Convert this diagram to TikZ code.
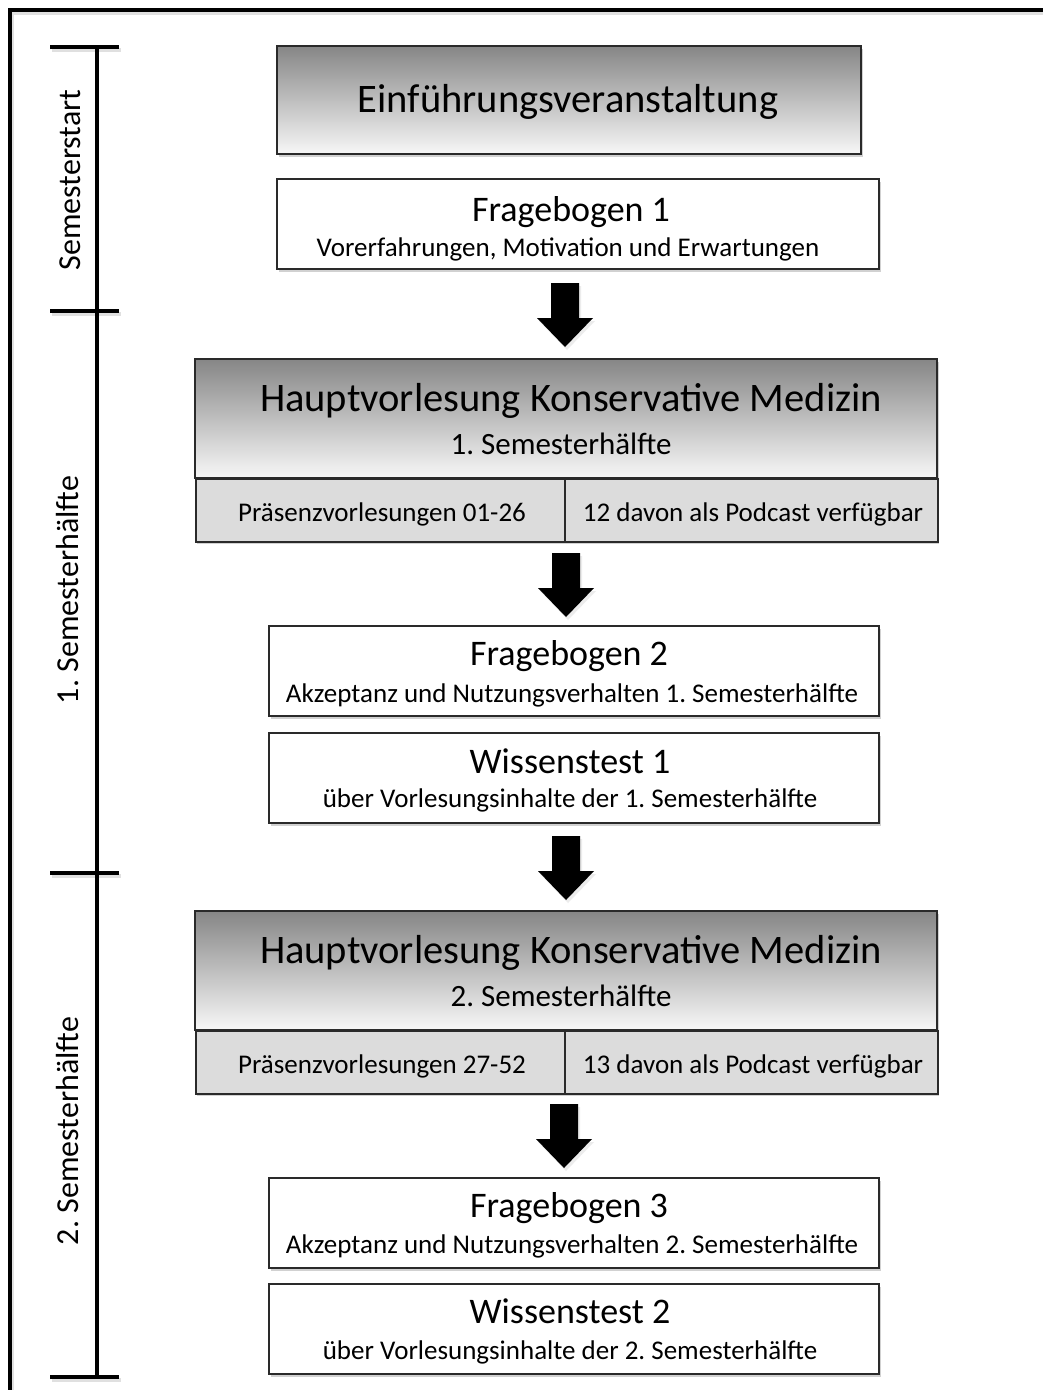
\documentclass[tikz,border=0pt]{standalone}
\usepackage{fontspec}
\setmainfont{Carlito}
\frenchspacing
\usetikzlibrary{shadows,calc}
\definecolor{boxline}{HTML}{2A2A2A}
\definecolor{cellfill}{HTML}{DCDCDC}
\definecolor{gradtop}{HTML}{868686}
\definecolor{gradbot}{HTML}{F7F7F7}
\tikzset{
  shad/.style={drop shadow={shadow xshift=2pt, shadow yshift=-3pt, opacity=0.18, fill=black}},
  plainbox/.style={draw=boxline, line width=1.6pt, fill=white, shad, inner sep=0pt},
  gradbox/.style={draw=boxline, line width=1.6pt, top color=gradtop, bottom color=gradbot, inner sep=0pt},
  cellbox/.style={draw=boxline, line width=1.6pt, fill=cellfill, inner sep=0pt},
  bigtitle/.style={font=\fontsize{40.5}{44}\selectfont, anchor=base, inner sep=0pt},
  midtitle/.style={font=\fontsize{36}{40}\selectfont, anchor=base, inner sep=0pt},
  hvsub/.style={font=\fontsize{31}{36}\selectfont, anchor=base, inner sep=0pt},
  subtitle/.style={font=\fontsize{27}{31}\selectfont, anchor=base, inner sep=0pt},
  celltext/.style={font=\fontsize{27}{31}\selectfont, anchor=base, inner sep=0pt},
  sidelabel/.style={rotate=90, inner sep=0pt, font=\fontsize{32}{36}\selectfont},
  heavy/.style={line width=4.5pt, black},
  heavyshadow/.style={line width=4.5pt, black, opacity=0.12},
  flowarrow/.style={fill=black, draw=none, drop shadow={shadow xshift=2pt, shadow yshift=-3pt, opacity=0.15}},
}
\newcommand\downarrowat[1]{%
  \path[flowarrow] ($(#1)+(-14,-32)$) -- ($(#1)+(14,-32)$) -- ($(#1)+(14,3)$) -- ($(#1)+(28,3)$)
    -- ($(#1)+(0,32)$) -- ($(#1)+(-28,3)$) -- ($(#1)+(-14,3)$) -- cycle;}
\begin{document}
\begin{tikzpicture}[x=1pt,y=-1pt]
\useasboundingbox (0,0) rectangle (1043,1390);
\fill[white] (0,0) rectangle (1043,1390);

% outer frame (cut at right and bottom)
\coordinate (frameBL) at (10,1420);
\coordinate (frameTL) at (10,10);
\coordinate (frameTR) at (1080,10);
\draw[heavyshadow] ($(frameBL)+(2,3)$) -- ($(frameTL)+(2,3)$) -- ($(frameTR)+(2,3)$);
\draw[heavy] (frameBL) -- (frameTL) -- (frameTR);

% timeline
\coordinate (tl0) at (97,47);
\coordinate (tl1) at (97,311);
\coordinate (tl2) at (97,873);
\coordinate (tl3) at (97,1377);
\foreach \t in {tl0,tl1,tl2,tl3}{
  \draw[heavyshadow] ($(\t)+(-45,3)$) -- ($(\t)+(24,3)$);
}
\draw[heavy] (tl0) -- (tl3);
\foreach \t in {tl0,tl1,tl2,tl3}{
  \draw[heavy] ($(\t)+(-47,0)$) -- ($(\t)+(22,0)$);
}
\node[sidelabel] (lab0) at (70,180) {Semesterstart};
\node[sidelabel] (lab1) at (68,590) {1. Semesterhälfte};
\node[sidelabel] (lab2) at (68,1131) {2. Semesterhälfte};

% Einführungsveranstaltung
\node[gradbox, shad, minimum width=584, minimum height=108] (einf) at (569,100) {};
\node[bigtitle] (einfT) at (568,112) {Einführungsveranstaltung};

% Fragebogen 1
\node[plainbox, minimum width=602, minimum height=90] (fb1) at (578,224) {};
\node[midtitle] (fb1T) at (571,221) {Fragebogen 1};
\node[subtitle] (fb1S) at (568,256) {Vorerfahrungen, Motivation und Erwartungen};

% Hauptvorlesung 1
\node[draw=none, fill=white, shad, minimum width=742, minimum height=182, inner sep=0pt] (hv1) at (566,450) {};
\node[gradbox, minimum width=742, minimum height=119] (hv1top) at (566,418.5) {};
\node[cellbox, minimum width=369, minimum height=63, anchor=north west] (hv1a) at (195,478) {};
\node[cellbox, minimum width=373, minimum height=63, anchor=north west] (hv1b) at (564,478) {};
\node[bigtitle] (hv1T) at (571,411) {Hauptvorlesung Konservative Medizin};
\node[hvsub] (hv1S) at (561,454) {1. Semesterhälfte};
\node[celltext] (hv1aT) at (382,521) {Präsenzvorlesungen 01-26};
\node[celltext] (hv1bT) at (753,521) {12 davon als Podcast verfügbar};

% Fragebogen 2
\node[plainbox, minimum width=610, minimum height=90] (fb2) at (574,671) {};
\node[midtitle] (fb2T) at (569,665) {Fragebogen 2};
\node[subtitle] (fb2S) at (572,702) {Akzeptanz und Nutzungsverhalten 1. Semesterhälfte};

% Wissenstest 1
\node[plainbox, minimum width=610, minimum height=90] (wt1) at (574,778) {};
\node[midtitle] (wt1T) at (570,773) {Wissenstest 1};
\node[subtitle] (wt1S) at (570,807) {über Vorlesungsinhalte der 1. Semesterhälfte};

% Hauptvorlesung 2
\node[draw=none, fill=white, shad, minimum width=742, minimum height=182, inner sep=0pt] (hv2) at (566,1002) {};
\node[gradbox, minimum width=742, minimum height=119] (hv2top) at (566,970.5) {};
\node[cellbox, minimum width=369, minimum height=63, anchor=north west] (hv2a) at (195,1030) {};
\node[cellbox, minimum width=373, minimum height=63, anchor=north west] (hv2b) at (564,1030) {};
\node[bigtitle] (hv2T) at (571,963) {Hauptvorlesung Konservative Medizin};
\node[hvsub] (hv2S) at (561,1006) {2. Semesterhälfte};
\node[celltext] (hv2aT) at (382,1073) {Präsenzvorlesungen 27-52};
\node[celltext] (hv2bT) at (753,1073) {13 davon als Podcast verfügbar};

% Fragebogen 3
\node[plainbox, minimum width=610, minimum height=90] (fb3) at (574,1223) {};
\node[midtitle] (fb3T) at (569,1217) {Fragebogen 3};
\node[subtitle] (fb3S) at (572,1253) {Akzeptanz und Nutzungsverhalten 2. Semesterhälfte};

% Wissenstest 2
\node[plainbox, minimum width=610, minimum height=90] (wt2) at (574,1329) {};
\node[midtitle] (wt2T) at (570,1323) {Wissenstest 2};
\node[subtitle] (wt2S) at (570,1359) {über Vorlesungsinhalte der 2. Semesterhälfte};

% arrows between stages
\coordinate (a1) at (565,315);
\coordinate (a2) at (566,585);
\coordinate (a3) at (566,868);
\coordinate (a4) at (564,1136);
\downarrowat{a1}
\downarrowat{a2}
\downarrowat{a3}
\downarrowat{a4}
\end{tikzpicture}
\end{document}
